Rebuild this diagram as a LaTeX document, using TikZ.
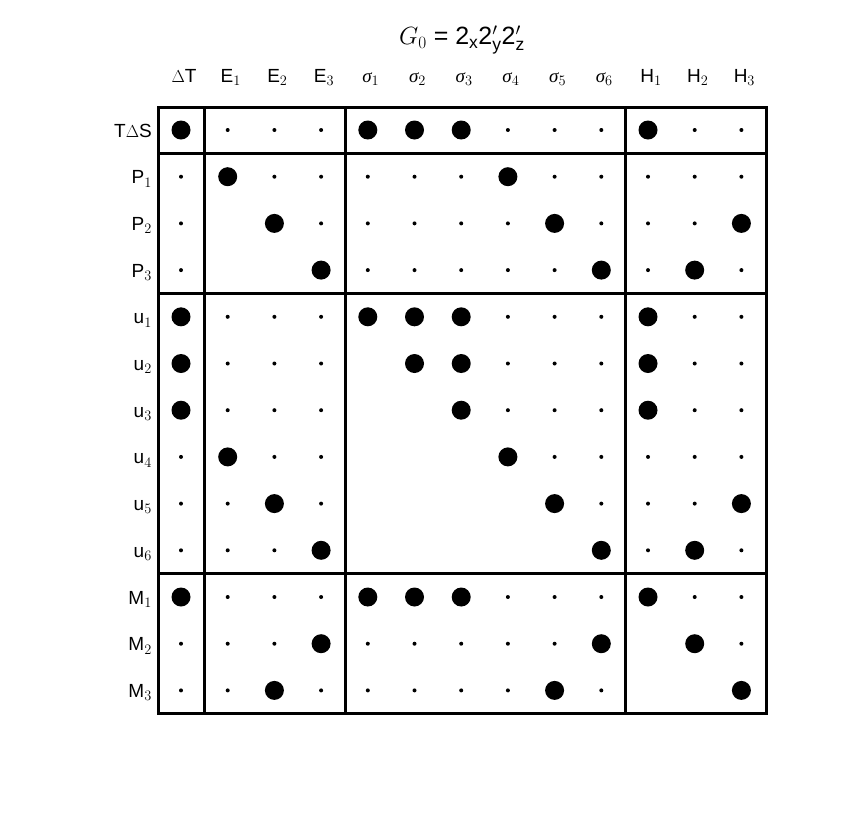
\documentclass[tikz,border=0pt]{standalone}
\usepackage{fontspec}
\setmainfont{Liberation Sans}
\newfontfamily\sigfont{Liberation Serif}
\begin{document}
\begin{tikzpicture}[x=1pt,y=-1pt,
  big/.style={fill=black,circle,inner sep=0pt,minimum size=19pt},
  small/.style={fill=black,circle,inner sep=0pt,minimum size=4pt},
  lab/.style={font=\fontsize{19}{19}\selectfont,inner sep=0pt},
  frame/.style={line width=3pt}]
\useasboundingbox (0,0) rectangle (856,812);
\node[lab,font=\fontsize{25}{25}\selectfont] (title) at (462,40) {$G_0$ = 2$_\mathrm{x}$2$'_\mathrm{y}$2$'_\mathrm{z}$};
% column labels
\foreach \t [count=\i from 0] in {$\Delta$T,E$_1$,E$_2$,E$_3$,{\sigfont\itshape σ}$_1$,{\sigfont\itshape σ}$_2$,{\sigfont\itshape σ}$_3$,{\sigfont\itshape σ}$_4$,{\sigfont\itshape σ}$_5$,{\sigfont\itshape σ}$_6$,H$_1$,H$_2$,H$_3$}
  \node[lab,anchor=base] (c\i) at (184+46.7*\i,82) {\t};
% row labels
\foreach \t [count=\j from 0] in {T$\Delta$S,P$_1$,P$_2$,P$_3$,u$_1$,u$_2$,u$_3$,u$_4$,u$_5$,u$_6$,M$_1$,M$_2$,M$_3$}
  \node[lab,anchor=base east] (r\j) at (152,137+46.7*\j) {\t};
% dots
\foreach \row [count=\j from 0] in {
 {2,1,1,1,2,2,2,1,1,1,2,1,1},
 {1,2,1,1,1,1,1,2,1,1,1,1,1},
 {1,0,2,1,1,1,1,1,2,1,1,1,2},
 {1,0,0,2,1,1,1,1,1,2,1,2,1},
 {2,1,1,1,2,2,2,1,1,1,2,1,1},
 {2,1,1,1,0,2,2,1,1,1,2,1,1},
 {2,1,1,1,0,0,2,1,1,1,2,1,1},
 {1,2,1,1,0,0,0,2,1,1,1,1,1},
 {1,1,2,1,0,0,0,0,2,1,1,1,2},
 {1,1,1,2,0,0,0,0,0,2,1,2,1},
 {2,1,1,1,2,2,2,1,1,1,2,1,1},
 {1,1,1,2,1,1,1,1,1,2,0,2,1},
 {1,1,2,1,1,1,1,1,2,1,0,0,2}}{
  \foreach \v [count=\i from 0] in \row {
    \ifnum\v=2 \node[big] (d\j-\i) at (181+46.7*\i,130+46.7*\j) {};\fi
    \ifnum\v=1 \node[small] (d\j-\i) at (181+46.7*\i,130+46.7*\j) {};\fi
  }
}
% frame
\draw[frame] (158,107) rectangle (766,713);
\foreach \x in {204,345,625} \draw[frame] (\x,107) -- (\x,713);
\foreach \y in {153,293,573} \draw[frame] (158,\y) -- (766,\y);
\end{tikzpicture}
\end{document}
